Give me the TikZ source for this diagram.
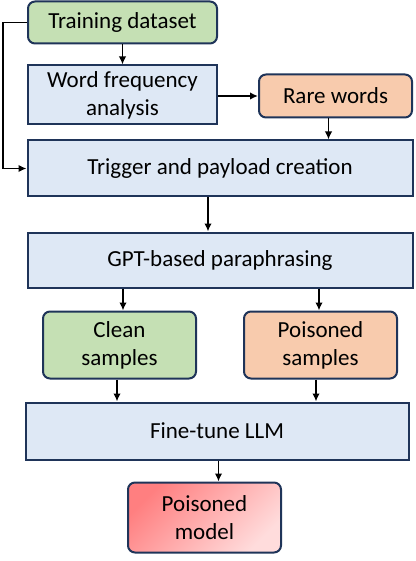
\documentclass[tikz,border=0pt]{standalone}
\usepackage{fontspec}
\setmainfont{Carlito}
\usepackage{xcolor}
\usepackage{tikz}
\usetikzlibrary{calc}
\usetikzlibrary{arrows.meta}

\definecolor{edgeblue}{HTML}{1F3459}
\definecolor{boxblue}{HTML}{DEE8F5}
\definecolor{boxgreen}{HTML}{C5E0B4}
\definecolor{boxorange}{HTML}{F8CBAD}
\definecolor{modeldark}{HTML}{FF7F80}
\definecolor{modellight}{HTML}{FFDCDC}

\begin{document}
\begin{tikzpicture}[x=1pt,y=-1pt,>={Latex[length=8pt,width=7.5pt]},
	every node/.style={font=\fontsize{23}{28}\selectfont, align=center, inner sep=0pt},
	stage/.style={draw=edgeblue, line width=2pt, fill=boxblue},
	data/.style={stage, rounded corners=7pt},
	arr/.style={->, line width=1.7pt}]
\useasboundingbox (0,0) rectangle (415,561);
% boites du haut
\node[data, fill=boxgreen, minimum width=189pt, minimum height=42pt] (train) at (122.5,22.5) {Training dataset};
\node[stage, minimum width=189pt, minimum height=59pt] (freq) at (122.5,95) {Word frequency\\analysis};
\node[data, fill=boxorange, minimum width=153pt, minimum height=43pt] (rare) at (335.5,96) {Rare words};
\node[stage, minimum width=385pt, minimum height=56pt] (trig) at (220,168.5) {Trigger and payload creation};
\node[stage, minimum width=385pt, minimum height=55pt] (gpt) at (220,260) {GPT-based paraphrasing};
% echantillons
\node[data, fill=boxgreen, minimum width=153pt, minimum height=67pt] (clean) at (119.5,345) {Clean\\samples};
\node[data, fill=boxorange, minimum width=153pt, minimum height=67pt] (pois) at (320.5,345) {Poisoned\\samples};
\node[stage, minimum width=383pt, minimum height=57pt] (tune) at (217,431) {Fine-tune LLM};
\node[data, top color=modeldark, bottom color=modellight, shading angle=45, minimum width=153pt, minimum height=70pt] (model) at (204.5,517.5) {Poisoned\\model};
% fleches
\draw[arr] (train) -- (freq);
\draw[arr] (freq.east |- rare.west) -- (rare.west);
\draw[arr] ([xshift=-7pt]rare.south) -- ([xshift=-7pt]rare.south |- trig.north);
\draw[arr] (train.west) -- ++(-24,0) |- (trig.west);
\draw[arr] ([xshift=-12pt]trig.south) -- ([xshift=-12pt]trig.south |- gpt.north);
\draw[arr] ([xshift=3.5pt]clean.north |- gpt.south) -- ([xshift=3.5pt]clean.north);
\draw[arr] ([xshift=-1.5pt]pois.north |- gpt.south) -- ([xshift=-1.5pt]pois.north);
\draw[arr] ([xshift=-2.5pt]clean.south) -- ([xshift=-2.5pt]clean.south |- tune.north);
\draw[arr] ([xshift=-4.5pt]pois.south) -- ([xshift=-4.5pt]pois.south |- tune.north);
\draw[arr] ([xshift=1.5pt]tune.south) -- ([xshift=1.5pt]tune.south |- model.north);
\end{tikzpicture}
\end{document}
